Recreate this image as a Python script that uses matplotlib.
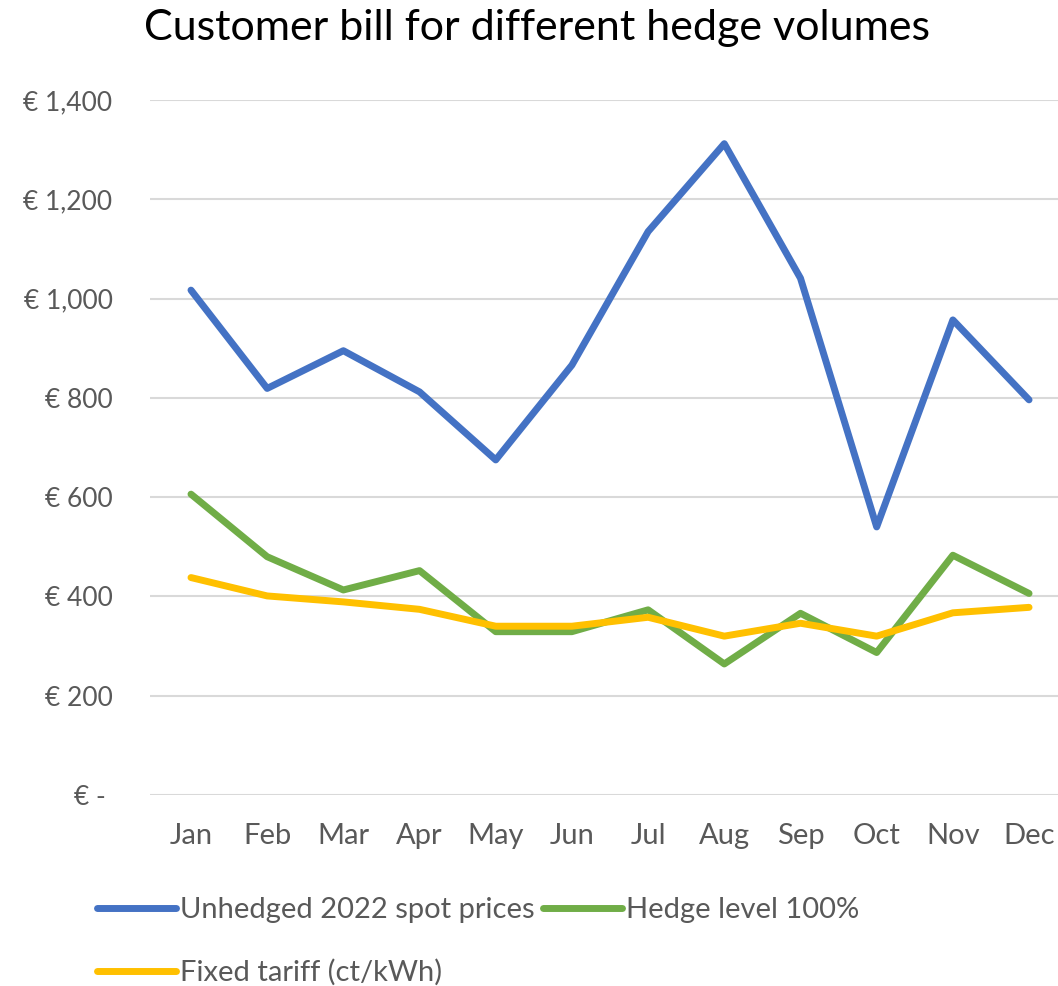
import matplotlib.pyplot as plt
from matplotlib.ticker import FixedLocator

plt.rcParams['font.family'] = ['Lato', 'DejaVu Sans']

# Data
months = ['Jan', 'Feb', 'Mar', 'Apr', 'May', 'Jun', 'Jul', 'Aug', 'Sep', 'Oct', 'Nov', 'Dec']
unhedged = [1017, 819, 895, 812, 675, 866, 1135, 1312, 1041, 540, 957, 796]
hedge_100 = [606, 480, 413, 452, 329, 329, 373, 264, 366, 287, 483, 406]
fixed_tariff = [438, 401, 389, 374, 340, 340, 358, 320, 346, 320, 367, 378]

y_ticks = [0, 200, 400, 600, 800, 1000, 1200, 1400]
y_labels = ['€ - ', '€ 200', '€ 400', '€ 600', '€ 800', '€ 1,000', '€ 1,200', '€ 1,400']

label_color = '#595959'
grid_color = '#d9d9d9'

fig = plt.figure(figsize=(10.58, 9.86), dpi=100)
ax = fig.add_axes([150 / 1058, 1 - 795 / 986, 908 / 1058, 695 / 986])

x = list(range(len(months)))
l1, = ax.plot(x, unhedged, color='#4472c4', lw=5, solid_capstyle='round', solid_joinstyle='round',
              label='Unhedged 2022 spot prices')
l2, = ax.plot(x, hedge_100, color='#70ad47', lw=5, solid_capstyle='round', solid_joinstyle='round',
              label='Hedge level 100%')
l3, = ax.plot(x, fixed_tariff, color='#ffc000', lw=5, solid_capstyle='round', solid_joinstyle='round',
              label='Fixed tariff (ct/kWh)')

ax.set_ylim(0, 1400)
ax.set_xlim(-0.538, 11.38)
ax.yaxis.set_major_locator(FixedLocator(y_ticks))
ax.set_yticklabels(y_labels)
ax.set_xticks(x)
ax.set_xticklabels(months)
ax.tick_params(axis='both', length=0, labelcolor=label_color)
ax.tick_params(axis='y', labelsize=19, pad=27)
ax.tick_params(axis='x', labelsize=21, pad=20)

ax.grid(axis='y', color=grid_color, lw=1.5)
ax.set_axisbelow(True)
for s in ax.spines.values():
    s.set_visible(False)

fig.text(537 / 1058, 1 - 28 / 986, 'Customer bill for different hedge volumes',
         ha='center', va='center', fontsize=31, color='#000000')

# order handles so the legend fills row by row
fig.legend([l1, l3, l2], [l1.get_label(), l3.get_label(), l2.get_label()],
           ncol=2, loc='upper left', bbox_to_anchor=(88 / 1058, 1 - 888 / 986),
           frameon=False, fontsize=21, labelcolor=label_color,
           handlelength=2.7, handletextpad=0.15, columnspacing=0.3, labelspacing=1.25,
           borderaxespad=0, borderpad=0.3)

fig.savefig('out.png', dpi=100)
